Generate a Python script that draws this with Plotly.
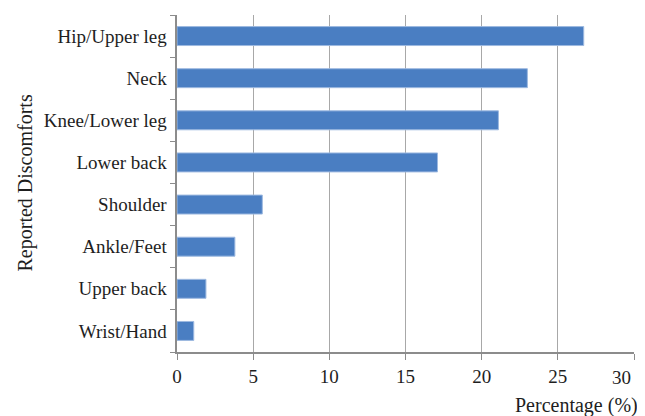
import plotly.graph_objects as go

categories = ["Hip/Upper leg", "Neck", "Knee/Lower leg", "Lower back",
              "Shoulder", "Ankle/Feet", "Upper back", "Wrist/Hand"]
values = [26.7, 23.0, 21.1, 17.1, 5.6, 3.8, 1.9, 1.1]
x_ticks = [0, 5, 10, 15, 20, 25, 30]
x_tick_labels = ["0", "5", "10", "15", "20", "25", "30"]

font = dict(family="Liberation Serif", size=19, color="#1E1E1E")
title_font = dict(family="Liberation Serif", size=20, color="#1E1E1E")

# the page body has an 8px default margin; compensate so the chart fills the window
PAGE_OFFSET = 8

# the last tick label sits left of its grid line in the reference:
# draw it as a right-anchored annotation at the last tick value
shown_labels = x_tick_labels[:-1] + [""]

fig = go.Figure(go.Bar(
    y=categories, x=values, orientation="h",
    marker=dict(color="#4A7EC2", line=dict(color="#9DB9E0", width=1)),
))

fig.update_layout(
    width=645 - PAGE_OFFSET, height=416 - PAGE_OFFSET,
    margin=dict(l=177 - PAGE_OFFSET, r=11, t=15 - PAGE_OFFSET, b=64),
    paper_bgcolor="white", plot_bgcolor="white",
    font=font, bargap=0.55, showlegend=False,
    xaxis=dict(range=[0, 30], tickvals=x_ticks, ticktext=shown_labels,
               showgrid=True, gridcolor="#A8A8A8", gridwidth=1,
               showline=True, linecolor="#8C8C8C", linewidth=1.5,
               ticks="outside", ticklen=6, tickcolor="#8C8C8C",
               zeroline=False, tickfont=font, automargin=False),
    yaxis=dict(categoryorder="array", categoryarray=categories[::-1],
               showline=True, linecolor="#8C8C8C", linewidth=1.5,
               ticks="outside", ticklen=5, tickcolor="#8C8C8C",
               tickson="boundaries", showgrid=False, tickfont=font,
               ticksuffix=" ", automargin=False),
    annotations=[
        dict(text=x_tick_labels[-1], x=x_ticks[-1], xref="x",
             xanchor="right", xshift=-1, y=0, yref="paper",
             yanchor="middle", yshift=-25, showarrow=False, font=font),
        dict(text="Percentage (%)", x=1, xref="paper", xanchor="right",
             y=0, yref="paper", yanchor="middle", yshift=-53,
             xshift=6, showarrow=False, font=title_font),
        dict(text="Reported Discomforts", x=0, xref="paper",
             xanchor="center", xshift=-152, y=0.5, yref="paper",
             yanchor="middle", showarrow=False, textangle=-90,
             font=title_font),
    ],
)
fig.write_html("out.html")
